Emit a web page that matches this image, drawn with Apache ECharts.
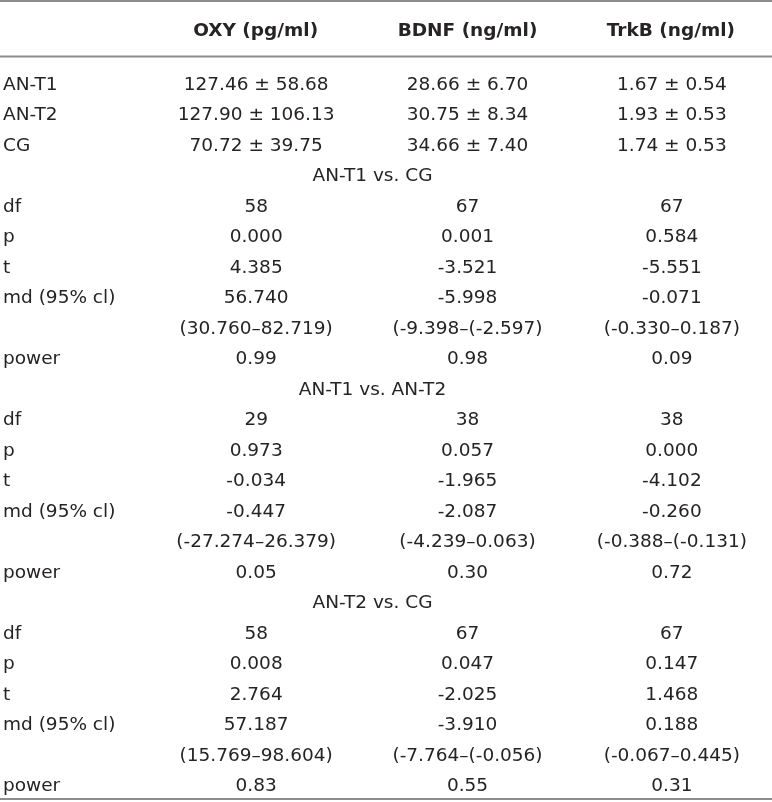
<!DOCTYPE html>
<html>
<head>
<meta charset="utf-8">
<script src="https://cdn.jsdelivr.net/npm/echarts@6/dist/echarts.min.js"></script>
<style>html,body{margin:0;padding:0;background:#fff}#c{width:772px;height:802px}</style>
</head>
<body>
<div id="c"></div>
<script>
// ---------- data ----------
var measures = ['OXY (pg/ml)', 'BDNF (ng/ml)', 'TrkB (ng/ml)'];
var groups = ['AN-T1', 'AN-T2', 'CG'];
// mean ± SD per group, per measure
var oxyMean = [127.46, 127.90, 70.72];
var oxySD = [58.68, 106.13, 39.75];
var bdnfMean = [28.66, 30.75, 34.66];
var bdnfSD = [6.70, 8.34, 7.40];
var trkbMean = [1.67, 1.93, 1.74];
var trkbSD = [0.54, 0.53, 0.53];

var comparisons = ['AN-T1 vs. CG', 'AN-T1 vs. AN-T2', 'AN-T2 vs. CG'];
var statLabels = ['df', 'p', 't', 'md (95% cl)', '', 'power'];
// per comparison: [OXY, BDNF, TrkB]
var dfVals = [[58, 67, 67], [29, 38, 38], [58, 67, 67]];
var pVals = [[0.000, 0.001, 0.584], [0.973, 0.057, 0.000], [0.008, 0.047, 0.147]];
var tVals = [[4.385, -3.521, -5.551], [-0.034, -1.965, -4.102], [2.764, -2.025, 1.468]];
var mdVals = [[56.740, -5.998, -0.071], [-0.447, -2.087, -0.260], [57.187, -3.910, 0.188]];
var ciLow = [[30.760, -9.398, -0.330], [-27.274, -4.239, -0.388], [15.769, -7.764, -0.067]];
var ciHigh = [[82.719, -2.597, 0.187], [26.379, 0.063, -0.131], [98.604, -0.056, 0.445]];
var powerVals = [[0.99, 0.98, 0.09], [0.05, 0.30, 0.72], [0.83, 0.55, 0.31]];

// ---------- build table ----------
var means = [oxyMean, bdnfMean, trkbMean];
var sds = [oxySD, bdnfSD, trkbSD];
var rowLabels = [];
var cells = [[], [], []];
var sectionCells = [];
groups.forEach(function (g, i) {
  var r = rowLabels.length;
  rowLabels.push(g);
  for (var c = 0; c < 3; c++) {
    cells[c].push([c, r, means[c][i].toFixed(2) + ' ± ' + sds[c][i].toFixed(2)]);
  }
});
function ciText(lo, hi) {
  return '(' + lo.toFixed(3) + '–' + (hi < 0 ? '(' : '') + hi.toFixed(3) + ')';
}
comparisons.forEach(function (name, k) {
  var r0 = rowLabels.length;
  rowLabels.push('');
  sectionCells.push([1, r0, name]);
  statLabels.forEach(function (s) { rowLabels.push(s); });
  for (var c = 0; c < 3; c++) {
    cells[c].push([c, r0 + 1, String(dfVals[k][c])]);
    cells[c].push([c, r0 + 2, pVals[k][c].toFixed(3)]);
    cells[c].push([c, r0 + 3, tVals[k][c].toFixed(3)]);
    cells[c].push([c, r0 + 4, mdVals[k][c].toFixed(3)]);
    cells[c].push([c, r0 + 5, ciText(ciLow[k][c], ciHigh[k][c])]);
    cells[c].push([c, r0 + 6, powerVals[k][c].toFixed(2)]);
  }
});

// ---------- layout ----------
var FONT = 'DejaVu Sans';
var FS = 18.5;
var TXT = '#262324';
var ROWH = 30.5;
var gridTop = 85 - ROWH / 2;
var colOffset = [0, 5, 3];
var sectionOffset = 386 - 476;

var chart = echarts.init(document.getElementById('c'), null, { renderer: 'canvas' });

function textSeries(data, dx) {
  return {
    type: 'scatter',
    data: data,
    symbolSize: 0,
    silent: true,
    itemStyle: { opacity: 1 },
    label: {
      show: true,
      position: 'inside',
      offset: [dx, 0],
      formatter: function (p) { return p.value[2]; },
      fontFamily: FONT, fontSize: FS, color: TXT, opacity: 1
    }
  };
}
var series = cells.map(function (data, c) { return textSeries(data, colOffset[c]); });
series.push(textSeries(sectionCells, sectionOffset));

chart.setOption({
  animation: false,
  grid: { left: 152, top: gridTop, width: 648, height: ROWH * rowLabels.length },
  xAxis: {
    type: 'category',
    data: measures,
    position: 'top',
    axisLine: { show: false },
    axisTick: { show: false },
    splitLine: { show: false },
    axisLabel: {
      margin: gridTop - 31,
      verticalAlign: 'middle',
      formatter: function (v, i) { return '{c' + i + '|' + v + '}'; },
      rich: {
        c0: { fontFamily: FONT, fontSize: FS, fontWeight: 'bold', color: TXT, padding: [0, 1, 0, 0] },
        c1: { fontFamily: FONT, fontSize: FS, fontWeight: 'bold', color: TXT, padding: [0, 0, 0, 10] },
        c2: { fontFamily: FONT, fontSize: FS, fontWeight: 'bold', color: TXT, padding: [0, 0, 0, 4] }
      }
    }
  },
  yAxis: {
    type: 'category',
    data: rowLabels,
    inverse: true,
    axisLine: { show: false },
    axisTick: { show: false },
    splitLine: { show: false },
    axisLabel: {
      align: 'left',
      margin: 150,
      fontFamily: FONT, fontSize: FS, color: TXT
    }
  },
  graphic: [
    { type: 'line', shape: { x1: 0, y1: 1, x2: 772, y2: 1 }, style: { stroke: '#8c8c8c', lineWidth: 2 } },
    { type: 'line', shape: { x1: 0, y1: 56.5, x2: 772, y2: 56.5 }, style: { stroke: '#8c8c8c', lineWidth: 2 } },
    { type: 'line', shape: { x1: 0, y1: 799, x2: 772, y2: 799 }, style: { stroke: '#8c8c8c', lineWidth: 2 } }
  ],
  series: series
});
</script>
</body>
</html>
